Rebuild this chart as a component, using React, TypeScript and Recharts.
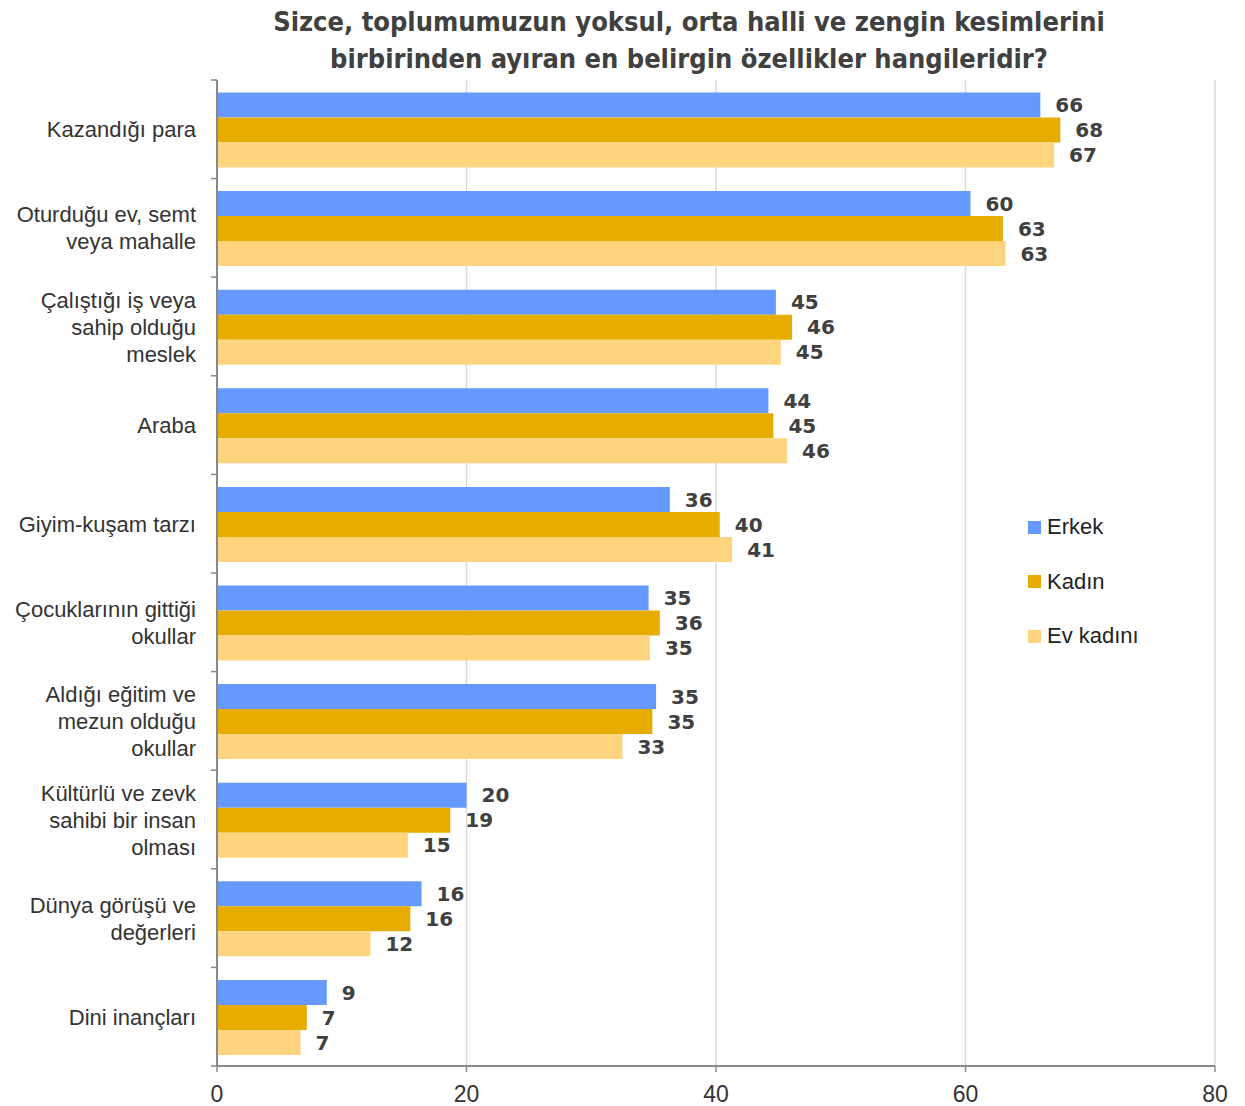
import { Bar, BarChart, CartesianGrid, LabelList, XAxis, YAxis } from "recharts";

const categories = [
  "Kazandığı para",
  "Oturduğu ev, semt\nveya mahalle",
  "Çalıştığı iş veya\nsahip olduğu\nmeslek",
  "Araba",
  "Giyim-kuşam tarzı",
  "Çocuklarının gittiği\nokullar",
  "Aldığı eğitim ve\nmezun olduğu\nokullar",
  "Kültürlü ve zevk\nsahibi bir insan\nolması",
  "Dünya görüşü ve\ndeğerleri",
  "Dini inançları",
];

const erkek = [66.0, 60.4, 44.8, 44.2, 36.3, 34.6, 35.2, 20.0, 16.4, 8.8];
const kadin = [67.6, 63.0, 46.1, 44.6, 40.3, 35.5, 34.9, 18.7, 15.5, 7.2];
const evKadini = [67.1, 63.2, 45.2, 45.7, 41.3, 34.7, 32.5, 15.3, 12.3, 6.7];

const xTicks = [0, 20, 40, 60, 80];

const series = [
  { key: "erkek", name: "Erkek", color: "#6699ff" },
  { key: "kadin", name: "Kadın", color: "#e6ad00" },
  { key: "evKadini", name: "Ev kadını", color: "#ffd47f" },
];

const data = categories.map((cat, i) => ({
  cat,
  erkek: erkek[i],
  kadin: kadin[i],
  evKadini: evKadini[i],
}));

const labelFont = "'Liberation Sans', Arial, sans-serif";
const TICK_GAP = 21;

// category label plus the small tick marks sitting on the band edges
function CategoryTick(props: any) {
  const { x, y, payload, index, visibleTicksCount } = props;
  const lines = String(payload.value).split("\n");
  const lh = 27;
  const startDy = -((lines.length - 1) * lh) / 2;
  const half = payload.offset || 0;
  const axisX = x + TICK_GAP;
  const isLast = index === visibleTicksCount - 1;
  return (
    <g>
      <line x1={axisX - 6} x2={axisX} y1={y - half} y2={y - half} stroke="#888" strokeWidth={1.5} />
      {isLast && (
        <line x1={axisX - 6} x2={axisX} y1={y + half} y2={y + half} stroke="#888" strokeWidth={1.5} />
      )}
      <text
        x={x}
        y={y}
        textAnchor="end"
        fill="#333333"
        fontSize={22}
        fontFamily={labelFont}
        dominantBaseline="central"
      >
        {lines.map((line, i) => (
          <tspan key={i} x={x} dy={i === 0 ? startDy : lh}>
            {line}
          </tspan>
        ))}
      </text>
    </g>
  );
}

function LegendBox() {
  return (
    <div
      style={{
        position: "absolute",
        left: 1028,
        top: 500,
        fontFamily: labelFont,
        fontSize: 22,
        color: "#222",
      }}
    >
      {series.map((s) => (
        <div
          key={s.key}
          style={{ display: "flex", alignItems: "center", height: 54.5 }}
        >
          <span
            style={{
              width: 13,
              height: 13,
              background: s.color,
              display: "inline-block",
              marginRight: 6,
            }}
          />
          <span>{s.name}</span>
        </div>
      ))}
    </div>
  );
}

export default function App() {
  return (
    <div
      style={{
        position: "absolute",
        left: 0,
        top: 0,
        width: 1245,
        height: 1106,
        background: "#fff",
      }}
    >
      <div
        style={{
          position: "absolute",
          left: 0,
          top: 3,
          width: 1378,
          textAlign: "center",
          fontFamily: "'DejaVu Sans Condensed', 'DejaVu Sans', sans-serif",
          fontWeight: "bold",
          fontSize: 27,
          lineHeight: "37px",
          color: "#404040",
        }}
      >
        Sizce, toplumumuzun yoksul, orta halli ve zengin kesimlerini
        <br />
        birbirinden ayıran en belirgin özellikler hangileridir?
      </div>
      <BarChart
        width={1245}
        height={1106}
        data={data}
        layout="vertical"
        margin={{ top: 80, right: 30, left: 0, bottom: 0 }}
        barCategoryGap="12.7%"
        barGap={0}
      >
        <CartesianGrid horizontal={false} stroke="#d9d9d9" strokeWidth={1.5} />
        <XAxis
          type="number"
          domain={[0, 80]}
          ticks={xTicks}
          height={40}
          axisLine={{ stroke: "#888", strokeWidth: 2 }}
          tickLine={{ stroke: "#888", strokeWidth: 1.5 }}
          tickSize={6}
          tickMargin={14}
          tick={{ fill: "#333", fontSize: 23, fontFamily: labelFont }}
        />
        <YAxis
          type="category"
          dataKey="cat"
          width={217}
          axisLine={{ stroke: "#888", strokeWidth: 2 }}
          tickLine={false}
          tickSize={0}
          tickMargin={TICK_GAP}
          interval={0}
          tick={<CategoryTick />}
        />
        {series.map((s) => (
          <Bar
            key={s.key}
            dataKey={s.key}
            name={s.name}
            fill={s.color}
            isAnimationActive={false}
          >
            <LabelList
              dataKey={s.key}
              position="right"
              offset={15}
              formatter={(v: any) => Math.round(Number(v))}
              fill="#404040"
              fontSize={20}
              fontWeight="bold"
              fontFamily="'DejaVu Sans', sans-serif"
            />
          </Bar>
        ))}
      </BarChart>
      <LegendBox />
    </div>
  );
}
